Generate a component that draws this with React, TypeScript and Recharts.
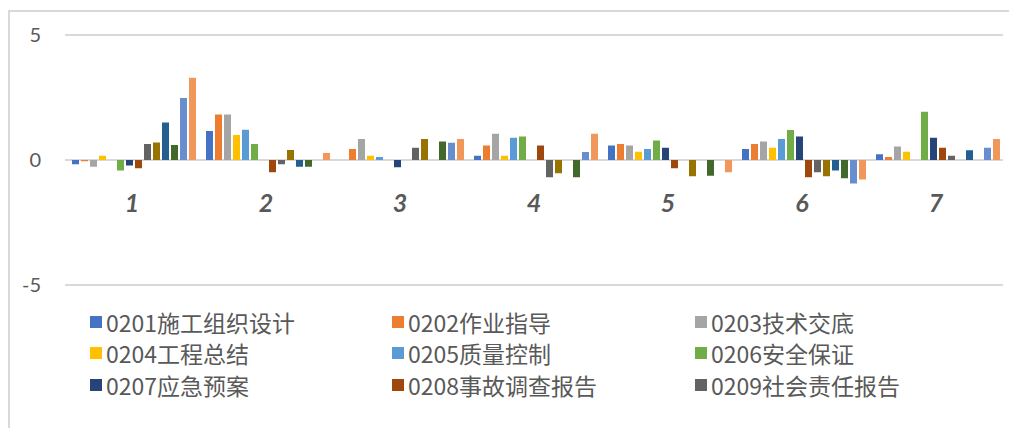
import React from 'react';
import { BarChart, Bar, XAxis, YAxis, CartesianGrid } from 'recharts';

const categories = ['1', '2', '3', '4', '5', '6', '7'];

const seriesKeys = ['s1', 's2', 's3', 's4', 's5', 's6', 's7', 's8', 's9', 's10', 's11', 's12', 's13', 's14'];
const seriesNames = [
  '0201施工组织设计', '0202作业指导', '0203技术交底',
  '0204工程总结', '0205质量控制', '0206安全保证',
  '0207应急预案', '0208事故调查报告', '0209社会责任报告',
  '系列10', '系列11', '系列12', '系列13', '系列14',
];
const seriesColors = [
  '#4472C4', '#ED7D31', '#A5A5A5', '#FFC000', '#5B9BD5', '#70AD47',
  '#264478', '#9E480E', '#636363', '#997300', '#255E91', '#43682B',
  '#698ED0', '#F1975A',
];

const s1 = [-0.17, 1.16, 0, 0.17, 0.58, 0.44, 0.23];
const s2 = [-0.05, 1.82, 0.44, 0.58, 0.64, 0.64, 0.12];
const s3 = [-0.27, 1.82, 0.84, 1.05, 0.58, 0.74, 0.54];
const s4 = [0.17, 1.0, 0.17, 0.17, 0.33, 0.49, 0.33];
const s5 = [0, 1.21, 0.12, 0.89, 0.44, 0.84, 0];
const s6 = [-0.42, 0.64, 0, 0.94, 0.78, 1.2, 1.93];
const s7 = [-0.22, 0, -0.29, 0, 0.49, 0.94, 0.89];
const s8 = [-0.33, -0.49, 0, 0.58, -0.33, -0.69, 0.49];
const s9 = [0.64, -0.17, 0.49, -0.69, 0, -0.49, 0.17];
const s10 = [0.7, 0.4, 0.84, -0.53, -0.65, -0.65, 0];
const s11 = [1.5, -0.27, 0, 0, 0, -0.42, 0.39];
const s12 = [0.6, -0.27, 0.74, -0.69, -0.63, -0.73, 0];
const s13 = [2.48, 0, 0.69, 0.32, 0, -0.94, 0.49];
const s14 = [3.29, 0.28, 0.84, 1.05, -0.49, -0.78, 0.84];

const seriesValues = [s1, s2, s3, s4, s5, s6, s7, s8, s9, s10, s11, s12, s13, s14];
const yTicks = [-5, 0, 5];
const legendCount = 9;

const data = categories.map((c, i) => {
  const row: Record<string, number | string> = { cat: c };
  seriesKeys.forEach((k, j) => {
    row[k] = seriesValues[j][i];
  });
  return row;
});

const TEXT = '#595959';
const GRID = '#d9d9d9';

const XTick = (props: any) => {
  const { x, y, payload } = props;
  return (
    <text
      x={x}
      y={y - 83}
      textAnchor="middle"
      dominantBaseline="central"
      fill={TEXT}
      fontSize={25}
      fontWeight="bold"
      fontStyle="italic"
      fontFamily="Lato, 'Open Sans', sans-serif"
    >
      {payload.value}
    </text>
  );
};

export default function App() {
  const legendCols = [82, 384, 687];
  const legendRows = [314, 345, 377];
  return (
    <div style={{ position: 'relative', width: 1009, height: 420 }}>
      <div
        style={{
          position: 'absolute',
          left: 0,
          top: 2,
          right: 0,
          bottom: 0,
          borderTop: `2px solid ${GRID}`,
          borderLeft: `2px solid ${GRID}`,
        }}
      />
      <div style={{ position: 'absolute', left: 0, top: 0 }}>
        <BarChart
          width={1009}
          height={420}
          data={data}
          margin={{ top: 27, right: 14, left: 0, bottom: 142 }}
          barCategoryGap={7}
          barGap={2}
        >
          <CartesianGrid vertical={false} stroke={GRID} strokeWidth={2} />
          <XAxis
            dataKey="cat"
            axisLine={false}
            tickLine={false}
            tickSize={0}
            tickMargin={0}
            height={1}
            interval={0}
            tick={<XTick />}
          />
          <YAxis
            domain={[-5, 5]}
            ticks={yTicks}
            width={57}
            axisLine={false}
            tickLine={false}
            tickSize={0}
            tickMargin={24}
            tick={{ fill: TEXT, fontSize: 20, fontFamily: "Lato, 'Open Sans', sans-serif" }}
          />
          {seriesKeys.map((k, j) => (
            <Bar
              key={k}
              dataKey={k}
              name={seriesNames[j]}
              fill={seriesColors[j]}
              isAnimationActive={false}
            />
          ))}
        </BarChart>
      </div>
      {seriesNames.slice(0, legendCount).map((n, i) => (
        <div
          key={n}
          style={{
            position: 'absolute',
            left: legendCols[i % 3],
            top: legendRows[Math.floor(i / 3)] - 16,
            height: 32,
            display: 'flex',
            alignItems: 'center',
            fontFamily: "'Noto Sans CJK SC', sans-serif",
            fontSize: 23,
            color: TEXT,
            whiteSpace: 'nowrap',
          }}
        >
          <span
            style={{
              display: 'inline-block',
              width: 12,
              height: 12,
              background: seriesColors[i],
              marginRight: 4,
            }}
          />
          <span>{n}</span>
        </div>
      ))}
    </div>
  );
}
